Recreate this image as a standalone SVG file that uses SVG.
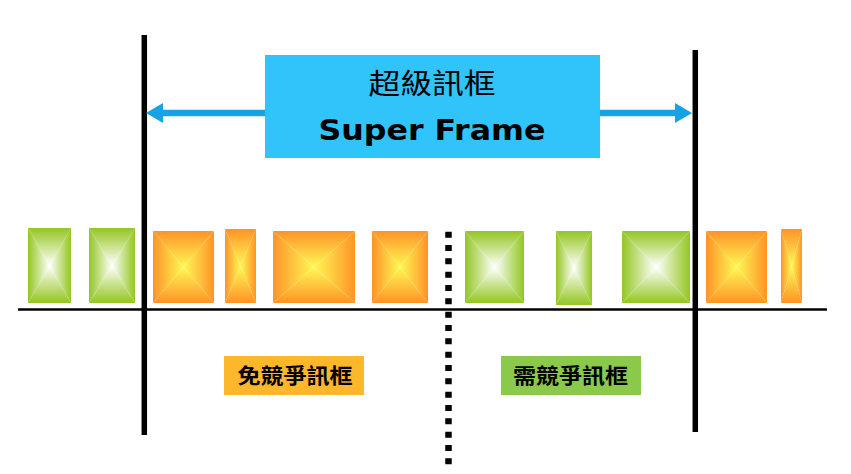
<svg xmlns="http://www.w3.org/2000/svg" width="851" height="474" viewBox="0 0 851 474">
<defs>
<style>
.gT{fill:url(#gT)}.gB{fill:url(#gB)}.gL{fill:url(#gL)}.gR{fill:url(#gR)}
.oT{fill:url(#oT)}.oB{fill:url(#oB)}.oL{fill:url(#oL)}.oR{fill:url(#oR)}
.cjk{font-family:"Noto Sans CJK TC","Noto Sans CJK SC",sans-serif;fill:#000}
.lbl{font-size:21px;font-weight:bold}
.vl{stroke:#000;stroke-width:5.5;fill:none}
</style>
<linearGradient id="gT" x1="0" y1="0" x2="0" y2="1"><stop offset="0" stop-color="#93C623"/><stop offset="0.45" stop-color="#C3DF83"/><stop offset="1" stop-color="#FFFFFF"/></linearGradient>
<linearGradient id="gB" x1="0" y1="1" x2="0" y2="0"><stop offset="0" stop-color="#93C623"/><stop offset="0.45" stop-color="#C3DF83"/><stop offset="1" stop-color="#FFFFFF"/></linearGradient>
<linearGradient id="gL" x1="0" y1="0" x2="1" y2="0"><stop offset="0" stop-color="#93C623"/><stop offset="0.45" stop-color="#C3DF83"/><stop offset="1" stop-color="#FFFFFF"/></linearGradient>
<linearGradient id="gR" x1="1" y1="0" x2="0" y2="0"><stop offset="0" stop-color="#93C623"/><stop offset="0.45" stop-color="#C3DF83"/><stop offset="1" stop-color="#FFFFFF"/></linearGradient>
<linearGradient id="oT" x1="0" y1="0" x2="0" y2="1"><stop offset="0" stop-color="#FF9327"/><stop offset="1" stop-color="#FFF855"/></linearGradient>
<linearGradient id="oB" x1="0" y1="1" x2="0" y2="0"><stop offset="0" stop-color="#FF9327"/><stop offset="1" stop-color="#FFF855"/></linearGradient>
<linearGradient id="oL" x1="0" y1="0" x2="1" y2="0"><stop offset="0" stop-color="#FF9327"/><stop offset="1" stop-color="#FFF855"/></linearGradient>
<linearGradient id="oR" x1="1" y1="0" x2="0" y2="0"><stop offset="0" stop-color="#FF9327"/><stop offset="1" stop-color="#FFF855"/></linearGradient>
<marker id="ah" markerUnits="userSpaceOnUse" markerWidth="17" markerHeight="20" refX="4" refY="10" orient="auto-start-reverse" viewBox="0 0 17 20">
<path d="M0,0 L17,10 L0,20 z" fill="#17A2E6"/>
</marker>
</defs>
<rect width="851" height="474" fill="#FFFFFF"/>

<!-- frames: each block = 4 triangles meeting at centre -->
<g id="frame-g1"><polygon class="gT" points="28,228 71,228 49.5,265.5"/><polygon class="gB" points="28,303 71,303 49.5,265.5"/><polygon class="gL" points="28,228 28,303 49.5,265.5"/><polygon class="gR" points="71,228 71,303 49.5,265.5"/></g>
<g id="frame-g2"><polygon class="gT" points="89,228 135,228 112,265.5"/><polygon class="gB" points="89,303 135,303 112,265.5"/><polygon class="gL" points="89,228 89,303 112,265.5"/><polygon class="gR" points="135,228 135,303 112,265.5"/></g>
<g id="frame-o1"><polygon class="oT" points="153,231 214,231 183.5,267"/><polygon class="oB" points="153,303 214,303 183.5,267"/><polygon class="oL" points="153,231 153,303 183.5,267"/><polygon class="oR" points="214,231 214,303 183.5,267"/></g>
<g id="frame-o2"><polygon class="oT" points="225,229 256,229 240.5,266"/><polygon class="oB" points="225,303 256,303 240.5,266"/><polygon class="oL" points="225,229 225,303 240.5,266"/><polygon class="oR" points="256,229 256,303 240.5,266"/></g>
<g id="frame-o3"><polygon class="oT" points="273,231 355,231 314,267"/><polygon class="oB" points="273,303 355,303 314,267"/><polygon class="oL" points="273,231 273,303 314,267"/><polygon class="oR" points="355,231 355,303 314,267"/></g>
<g id="frame-o4"><polygon class="oT" points="372,231 428,231 400,267"/><polygon class="oB" points="372,303 428,303 400,267"/><polygon class="oL" points="372,231 372,303 400,267"/><polygon class="oR" points="428,231 428,303 400,267"/></g>
<g id="frame-g3"><polygon class="gT" points="465,231 524,231 494.5,267"/><polygon class="gB" points="465,303 524,303 494.5,267"/><polygon class="gL" points="465,231 465,303 494.5,267"/><polygon class="gR" points="524,231 524,303 494.5,267"/></g>
<g id="frame-g4"><polygon class="gT" points="556,231 592,231 574,268"/><polygon class="gB" points="556,305 592,305 574,268"/><polygon class="gL" points="556,231 556,305 574,268"/><polygon class="gR" points="592,231 592,305 574,268"/></g>
<g id="frame-g5"><polygon class="gT" points="622,231 690,231 656,267"/><polygon class="gB" points="622,303 690,303 656,267"/><polygon class="gL" points="622,231 622,303 656,267"/><polygon class="gR" points="690,231 690,303 656,267"/></g>
<g id="frame-o5"><polygon class="oT" points="706,231 767,231 736.5,267"/><polygon class="oB" points="706,303 767,303 736.5,267"/><polygon class="oL" points="706,231 706,303 736.5,267"/><polygon class="oR" points="767,231 767,303 736.5,267"/></g>
<g id="frame-o6"><polygon class="oT" points="781,229 802,229 791.5,266"/><polygon class="oB" points="781,303 802,303 791.5,266"/><polygon class="oL" points="781,229 781,303 791.5,266"/><polygon class="oR" points="802,229 802,303 791.5,266"/></g>

<!-- lines -->
<g id="connectors">
<line x1="18" y1="309.5" x2="827" y2="309.5" stroke="#000" stroke-width="2.6"/>
<line class="vl" x1="144.3" y1="35" x2="144.3" y2="435"/>
<line class="vl" x1="695.3" y1="50" x2="695.3" y2="432"/>
<line x1="448.5" y1="231.7" x2="448.5" y2="465" stroke="#000" stroke-width="6.5" stroke-dasharray="6 7.33"/>
<line x1="159" y1="113" x2="679" y2="113" stroke="#17A2E6" stroke-width="6.5" marker-start="url(#ah)" marker-end="url(#ah)"/>
</g>

<g id="superframe">
<rect x="265" y="55" width="335" height="103" fill="#30C4FA"/>
<text class="cjk" x="432" y="94" font-size="28" text-anchor="middle" textLength="127" lengthAdjust="spacingAndGlyphs">超級訊框</text>
<text x="432" y="140" font-family="'DejaVu Sans',Verdana,sans-serif" font-weight="bold" font-size="28" text-anchor="middle" textLength="227" lengthAdjust="spacingAndGlyphs" fill="#000">Super Frame</text>
</g>

<g id="label-cf">
<rect x="224" y="356" width="140" height="39" fill="#FDB72B"/>
<text class="cjk lbl" x="295" y="383" text-anchor="middle" textLength="115" lengthAdjust="spacingAndGlyphs">免競爭訊框</text>
</g>
<g id="label-cp">
<rect x="501" y="356" width="140" height="39" fill="#8BC94A"/>
<text class="cjk lbl" x="570.5" y="383" text-anchor="middle" textLength="115" lengthAdjust="spacingAndGlyphs">需競爭訊框</text>
</g>
</svg>
